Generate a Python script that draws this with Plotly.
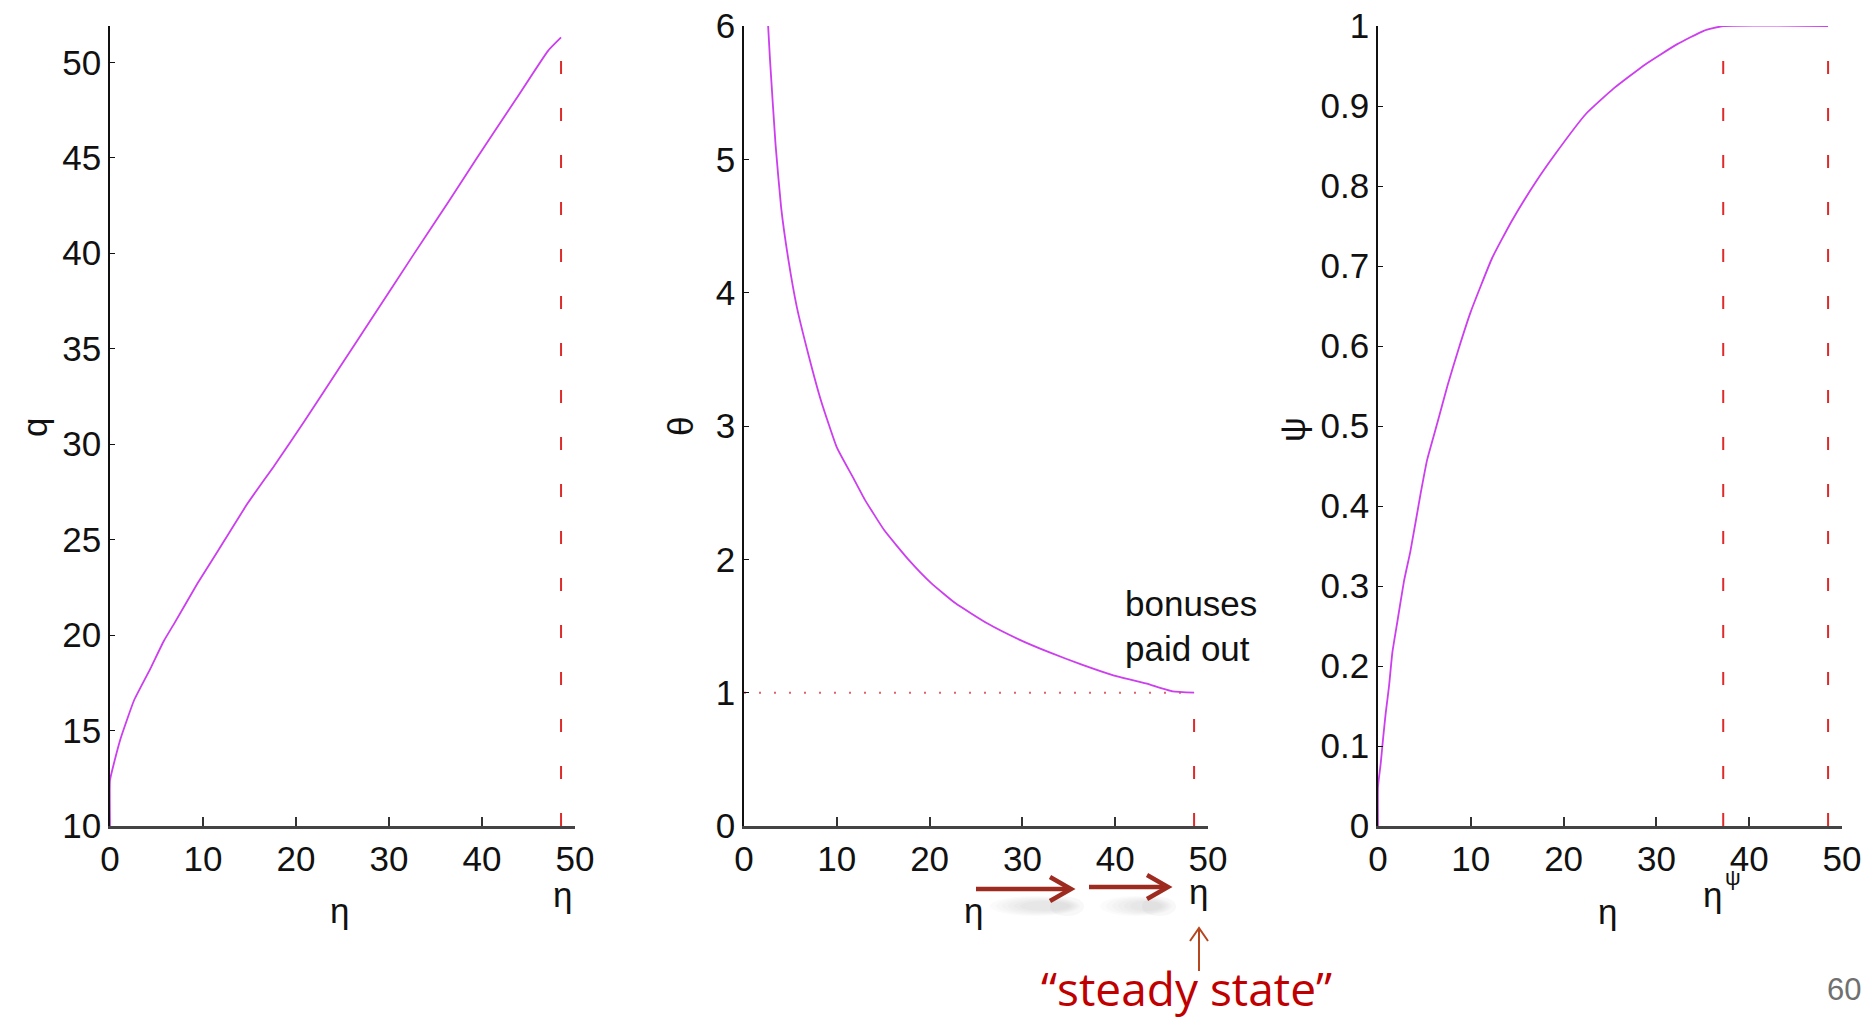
import plotly.graph_objects as go

W, H = 1876, 1018
FONT = "Liberation Sans Narrow, Arial Narrow, Liberation Sans, Arial, sans-serif"

# ---------------- data ----------------
eta_q = [0, 0, 0.43, 1.15, 2.6, 4.4, 5.8, 6.9, 9.4, 11.6, 14.8, 17.7, 20.9,
         24.6, 28.3, 32.6, 36.4, 39.4, 43.7, 47.1, 48.5]
q_vals = [10, 12.4, 13.3, 14.6, 16.6, 18.3, 19.7, 20.6, 22.7, 24.4, 26.9, 28.9,
          31.2, 33.95, 36.7, 39.9, 42.7, 44.95, 48.1, 50.6, 51.3]

eta_theta = [2.6, 2.8, 3.4, 4.0, 4.8, 5.7, 7.0, 8.3, 10.0, 11.7, 13.0, 15.1,
             17.7, 20.2, 22.8, 26.2, 29.6, 33.0, 36.4, 39.8, 43.3, 46.2, 48.5]
theta_vals = [6.0, 5.75, 5.11, 4.64, 4.24, 3.89, 3.52, 3.19, 2.84, 2.62, 2.45,
              2.22, 2.0, 1.82, 1.67, 1.52, 1.40, 1.30, 1.21, 1.13, 1.07, 1.01, 1.0]

eta_psi = [0, 0, 0.29, 0.57, 0.83, 1.19, 1.55, 2.08, 2.8, 3.5, 4.6, 5.3, 6.4,
           7.5, 8.7, 10.0, 12.3, 14.4, 17.0, 19.1, 22.4, 25.4, 28.8, 32.2,
           35.1, 37.2, 48.5]
psi_vals = [0, 0.049, 0.078, 0.112, 0.141, 0.175, 0.217, 0.255, 0.306, 0.344,
            0.416, 0.458, 0.504, 0.551, 0.597, 0.643, 0.71, 0.756, 0.805, 0.84,
            0.89, 0.922, 0.952, 0.977, 0.994, 1.0, 1.0]

eta_bar = 48.5        # "steady state" boundary
eta_psi_star = 37.2   # eta^psi
theta_floor = 1.0

x_ticks = [0, 10, 20, 30, 40, 50]
q_ticks = [10, 15, 20, 25, 30, 35, 40, 45, 50]
theta_ticks = [0, 1, 2, 3, 4, 5, 6]
psi_ticks = [0, 0.1, 0.2, 0.3, 0.4, 0.5, 0.6, 0.7, 0.8, 0.9, 1]
psi_ticklabels = ["0", "0.1", "0.2", "0.3", "0.4", "0.5", "0.6", "0.7", "0.8", "0.9", "1"]

# ---------------- styling ----------------
MAG = "#CC3EEE"
RED = "#DD2B2B"
DOT = "#E4606A"
DASH = "13px,34px"
FS = 35
CURVE = dict(color=MAG, width=1.8, shape="spline", smoothing=0.4)


def px(x):
    return x / W


def py(y):
    return 1 - y / H


fig = go.Figure()

# panel 1: q
fig.add_trace(go.Scatter(x=eta_q, y=q_vals, mode="lines", xaxis="x", yaxis="y", line=CURVE))
fig.add_trace(go.Scatter(x=[eta_bar, eta_bar], y=[q_ticks[0], q_vals[-1] - 0.3], mode="lines",
                         xaxis="x", yaxis="y", line=dict(color=RED, width=2, dash=DASH)))

# panel 2: theta
fig.add_trace(go.Scatter(x=[0, eta_bar], y=[theta_floor, theta_floor], mode="lines",
                         xaxis="x2", yaxis="y2", line=dict(color=DOT, width=2, dash="2px,13px")))
fig.add_trace(go.Scatter(x=eta_theta, y=theta_vals, mode="lines", xaxis="x2", yaxis="y2",
                         line=CURVE))
fig.add_trace(go.Scatter(x=[eta_bar, eta_bar], y=[0, theta_floor - 0.1], mode="lines",
                         xaxis="x2", yaxis="y2", line=dict(color=RED, width=2, dash=DASH)))

# panel 3: psi
fig.add_trace(go.Scatter(x=eta_psi, y=psi_vals, mode="lines", xaxis="x3", yaxis="y3",
                         line=CURVE))
for xv in [eta_psi_star, eta_bar]:
    fig.add_trace(go.Scatter(x=[xv, xv], y=[0, 0.97], mode="lines", xaxis="x3", yaxis="y3",
                             line=dict(color=RED, width=2, dash=DASH)))

ydom = [py(826), py(26)]
xdoms = [[px(110), px(575)], [px(744), px(1208)], [px(1378), px(1842)]]

xcommon = dict(range=[0, 50], tickvals=x_ticks, ticks="inside", ticklen=9, tickwidth=1.5,
               tickcolor="#333", showline=True, linecolor="#444", linewidth=2.5,
               showgrid=False, zeroline=False, automargin=False,
               tickfont=dict(family=FONT, size=FS, color="#111"), fixedrange=True)
ycommon = dict(ticks="inside", ticklen=5, tickwidth=1.2, tickcolor="#111", showline=True,
               linecolor="#111", linewidth=1.5, showgrid=False, zeroline=False, automargin=False,
               tickfont=dict(family=FONT, size=FS, color="#111"), fixedrange=True)

fig.update_layout(
    width=W, height=H, margin=dict(l=0, r=0, t=0, b=0, autoexpand=False),
    paper_bgcolor="white", plot_bgcolor="white", showlegend=False,
    xaxis=dict(domain=xdoms[0], anchor="y", **xcommon),
    yaxis=dict(domain=ydom, anchor="x", range=[10, 51.9], tickvals=q_ticks, **ycommon),
    xaxis2=dict(domain=xdoms[1], anchor="y2", **xcommon),
    yaxis2=dict(domain=ydom, anchor="x2", range=[0, 6], tickvals=theta_ticks, **ycommon),
    xaxis3=dict(domain=xdoms[2], anchor="y3", **xcommon),
    yaxis3=dict(domain=ydom, anchor="x3", range=[0, 1], tickvals=psi_ticks,
                ticktext=psi_ticklabels, **ycommon),
)

ann = []


def txt(x, y, s, size=FS, color="#111", family=FONT, angle=0, xanchor="center", yanchor="middle"):
    ann.append(dict(x=px(x), y=py(y), xref="paper", yref="paper", text=s, showarrow=False,
                    textangle=angle, xanchor=xanchor, yanchor=yanchor,
                    font=dict(family=family, size=size, color=color)))


# axis titles
txt(34, 428, "q", angle=-90)
txt(680, 427, "θ", angle=-90)
txt(1293, 430, "ψ", angle=-90)
txt(339, 910, "η")
txt(973, 910, "η")
txt(1607, 911, "η")
# boundary labels
txt(562, 894, "η")
txt(1198, 891, "η")
txt(1712, 894, "η")
txt(1733, 877, "ψ", size=22)
# annotations
txt(1123, 603, "bonuses", xanchor="left")
txt(1123, 648, "paid out", xanchor="left")
txt(1186, 988, "“steady state”", size=46, color="#C00000", family="Open Sans, Noto Sans, sans-serif")
txt(1844, 989, "60", size=31, color="#707070", family="Liberation Sans, Arial, sans-serif")

shapes = []


def line(x0, y0, x1, y1, color, width, opacity=1.0):
    shapes.append(dict(type="line", xref="paper", yref="paper", x0=px(x0), y0=py(y0),
                       x1=px(x1), y1=py(y1), line=dict(color=color, width=width), opacity=opacity))


def path(points, color, width):
    d = "M " + " L ".join(f"{px(a):.5f},{py(b):.5f}" for a, b in points)
    shapes.append(dict(type="path", xref="paper", yref="paper", path=d,
                       line=dict(color=color, width=width)))


def blob(x0, y0, x1, y1, opacity):
    shapes.append(dict(type="circle", xref="paper", yref="paper", x0=px(x0), y0=py(y0),
                       x1=px(x1), y1=py(y1), fillcolor="#808080", opacity=opacity,
                       line=dict(width=0)))


# soft shadows under the arrows
for (a, b) in [(990, 1080), (1100, 1172)]:
    for k in range(6):
        blob(a + 6 * k, 896 + k, b - 2 * k, 916 - k, 0.035)
    blob(b - 30, 897, b + 4, 916, 0.06)

AR = "#9E2B1F"
line(976, 889, 1068, 889, AR, 4.5)
path([(1050, 877), (1071, 889), (1050, 901)], AR, 4.5)
line(1089, 887, 1165, 887, AR, 4.5)
path([(1147, 875), (1168, 887), (1147, 899)], AR, 4.5)

SA = "#B5461E"
line(1199, 971, 1199, 929, SA, 2)
path([(1190, 941), (1199, 928), (1208, 941)], SA, 2)

fig.update_layout(annotations=ann, shapes=shapes)
fig.write_html("out.html")
